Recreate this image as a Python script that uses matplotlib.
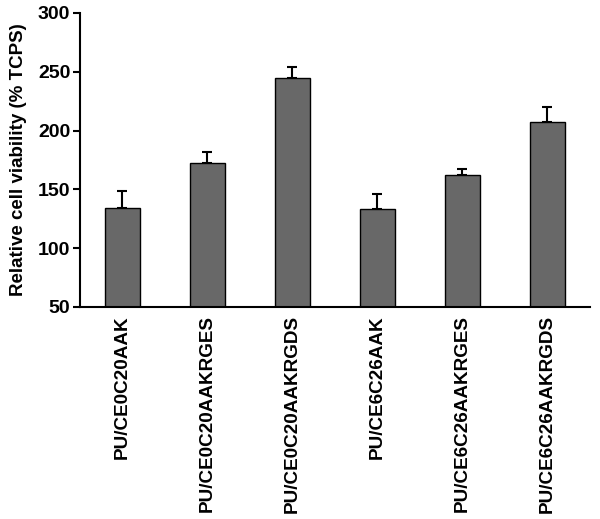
import matplotlib
matplotlib.use("Agg")
import matplotlib.pyplot as plt
import numpy as np

categories = ["PU/CE0C20AAK", "PU/CE0C20AAKRGES", "PU/CE0C20AAKRGDS",
              "PU/CE6C26AAK", "PU/CE6C26AAKRGES", "PU/CE6C26AAKRGDS"]
values = [134, 172.7, 244.4, 133, 162.2, 207]
errors = [14.6, 9.3, 9.6, 12.8, 5.4, 12.8]

plt.rcParams['font.family'] = ['Liberation Sans', 'DejaVu Sans']
fig = plt.figure(figsize=(6, 5.19), dpi=100)
ax = fig.add_axes([0.1333, 0.4085, 0.85, 0.5665])

x = np.arange(len(categories))
ax.bar(x, np.array(values) - 50, bottom=50, width=0.42, color="#686868",
       edgecolor="black", linewidth=1.0, zorder=2)
ax.errorbar(x, values, yerr=[np.zeros(len(errors)), errors], fmt="none",
            ecolor="black", elinewidth=1.5, capsize=3.6, capthick=1.5, zorder=1)

ax.set_xlim(-0.5, 5.5)
ax.set_ylim(50, 300)
ax.set_yticks([50, 100, 150, 200, 250, 300])
ax.set_xticks(x)
ax.set_xticklabels(categories, rotation=90, fontweight="bold", fontsize=13.6)
ax.tick_params(axis="x", length=0, pad=6)
ax.tick_params(axis="y", length=5, width=1.5, labelsize=14, pad=2)
for lab in ax.get_yticklabels():
    lab.set_fontweight("bold")
ax.spines["top"].set_visible(False)
ax.spines["right"].set_visible(False)
ax.spines["left"].set_linewidth(1.5)
ax.spines["bottom"].set_linewidth(1.5)
ax.set_ylabel("Relative cell viability (% TCPS)", fontweight="bold", fontsize=13.5, labelpad=8)

fig.savefig("out.png", dpi=100)
